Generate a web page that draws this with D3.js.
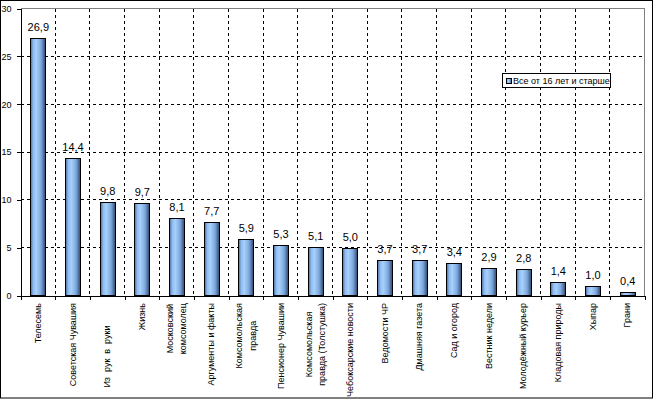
<!DOCTYPE html>
<meta charset="utf-8">
<html>
<head>
  <title>Readership chart</title>
  <style>
    body { margin: 0; background: #fff; }
    svg { display: block; font-family: "Liberation Sans", Arial, sans-serif; }
    .grid line { stroke: #000; stroke-dasharray: 3,3; shape-rendering: crispEdges; }
    .axis path, .axis line { stroke: #000; shape-rendering: crispEdges; }
    .axis text { font-size: 9px; fill: #000; }
    .bar { stroke: #000; stroke-width: 1; shape-rendering: crispEdges; }
    .value { font-size: 11px; text-anchor: middle; }
    .cat { font-size: 9px; white-space: pre; }
  </style>
  <script src="https://d3js.org/d3.v7.min.js"></script>
</head>
<body>
  <svg width="654" height="399"></svg>
  <script>
    // categories (label lines separated by "\n")
    var categories = [
      "Телесемь", "Советская Чувашия", "Из  рук  в  руки         ", "Жизнь",
      "Московский\nкомсомолец", "Аргументы и факты", "Комсомольская\nправда",
      "Пенсионер Чувашии", "Комсомольская\nправда (Толстушка)", "Чебоксарские новости",
      "Ведомости ЧР", "Дмашняя газета", "Сад и огород", "Вестник недели",
      "Молодёжный курьер", "Кладовая природы", "Хыпар", "Грани"
    ];
    var values = [26.9, 14.4, 9.8, 9.7, 8.1, 7.7, 5.9, 5.3, 5.1, 5.0, 3.7, 3.7, 3.4, 2.9, 2.8, 1.4, 1.0, 0.4];
    var yTicks = [0, 5, 10, 15, 20, 25, 30];
    var seriesName = "Все от 16 лет и старше";

    var svg = d3.select("svg");
    var plotLeft = 20.5, plotRight = 644.5, plotTop = 8.5, plotBottom = 295.5;

    var x = d3.scaleBand().domain(d3.range(categories.length)).range([plotLeft, plotRight]);
    var xb = d3.scaleLinear().domain([0, categories.length]).range([plotLeft, plotRight]);
    var y = d3.scaleLinear().domain([0, 30]).range([plotBottom, plotTop]);
    var fmt = function(v) { return d3.format(".1f")(v).replace(".", ","); };

    // bar gradient (cylinder look)
    var grad = svg.append("defs").append("linearGradient").attr("id", "barfill");
    [["0%", "#46689a"], ["18%", "#8fbbee"], ["38%", "#a6d1ff"], ["70%", "#7ea8dc"], ["100%", "#2c4872"]]
      .forEach(function(s) { grad.append("stop").attr("offset", s[0]).attr("stop-color", s[1]); });

    // outer chart border
    svg.append("rect").attr("x", 0.5).attr("y", 0.5).attr("width", 652).attr("height", 397.5)
      .attr("fill", "#fff").attr("stroke", "#000");

    // gridlines
    var grid = svg.append("g").attr("class", "grid");
    grid.selectAll(".h").data(yTicks.filter(function(t) { return t > 0 && t < 30; }))
      .enter().append("line")
      .attr("x1", plotLeft).attr("x2", plotRight)
      .attr("y1", function(d) { return y(d); }).attr("y2", function(d) { return y(d); });
    grid.selectAll(".v").data(d3.range(1, categories.length))
      .enter().append("line")
      .attr("x1", function(d) { return xb(d); }).attr("x2", function(d) { return xb(d); })
      .attr("y1", plotTop).attr("y2", plotBottom);

    // plot area border top/right (gray)
    svg.append("path")
      .attr("d", "M" + plotLeft + "," + plotTop + "H" + plotRight + "V" + plotBottom)
      .attr("fill", "none").attr("stroke", "#808080").attr("shape-rendering", "crispEdges");

    // bars
    var bw = 15;
    svg.selectAll(".bar").data(values).enter().append("rect")
      .attr("class", "bar")
      .attr("x", function(d, i) { return Math.round(x(i) + (x.bandwidth() - bw) / 2) + 0.5; })
      .attr("y", function(d) { return Math.round(y(d)) + 0.5; })
      .attr("width", bw)
      .attr("height", function(d) { return plotBottom - Math.round(y(d)) - 0.5; })
      .attr("fill", "url(#barfill)");

    // value labels
    svg.selectAll(".value").data(values).enter().append("text")
      .attr("class", "value")
      .attr("x", function(d, i) { return x(i) + x.bandwidth() / 2 + 0.5; })
      .attr("y", function(d) { return y(d) - 7; })
      .text(fmt);

    // y axis
    var yAxis = svg.append("g").attr("class", "axis")
      .attr("transform", "translate(" + plotLeft + ",0)")
      .call(d3.axisLeft(y).tickValues(yTicks).tickSize(4).tickSizeOuter(0).tickPadding(4));
    yAxis.selectAll("text").attr("x", -9);

    // x axis (tick marks at category boundaries)
    svg.append("g").attr("class", "axis")
      .attr("transform", "translate(0," + plotBottom + ")")
      .call(d3.axisBottom(xb).tickValues(d3.range(categories.length + 1)).tickSize(4).tickSizeOuter(0).tickFormat(""));

    // category labels, rotated, multi-line labels centered in their block
    var labelTop = 303, lh = 13.5;
    categories.forEach(function(c, i) {
      var lines = c.split("\n");
      var cx = x(i) + x.bandwidth() / 2;
      if (lines.length === 1) {
        svg.append("text").attr("class", "cat")
          .attr("text-anchor", "end").attr("dy", "0.35em")
          .attr("transform", "translate(" + cx + "," + labelTop + ") rotate(-90)")
          .text(c);
        return;
      }
      var texts = lines.map(function(l, j) {
        return svg.append("text").attr("class", "cat")
          .attr("text-anchor", "middle").attr("dy", "0.35em").text(l)
          .datum((j - (lines.length - 1) / 2) * lh);
      });
      var L = d3.max(texts, function(t) { return t.node().getComputedTextLength(); });
      texts.forEach(function(t) {
        t.attr("transform", "translate(" + (cx + t.datum()) + "," + (labelTop + L / 2) + ") rotate(-90)");
      });
    });

    // legend
    var lg = svg.append("g").attr("transform", "translate(502.5,73.5)");
    lg.append("rect").attr("width", 108).attr("height", 14)
      .attr("fill", "#fff").attr("stroke", "#000").attr("shape-rendering", "crispEdges");
    lg.append("rect").attr("x", 4).attr("y", 5).attr("width", 5).attr("height", 5)
      .attr("fill", "url(#barfill)").attr("stroke", "#000").attr("shape-rendering", "crispEdges");
    lg.append("text").attr("x", 10.5).attr("y", 10.5).attr("font-size", "9px").text(seriesName);
  </script>
</body>
</html>
